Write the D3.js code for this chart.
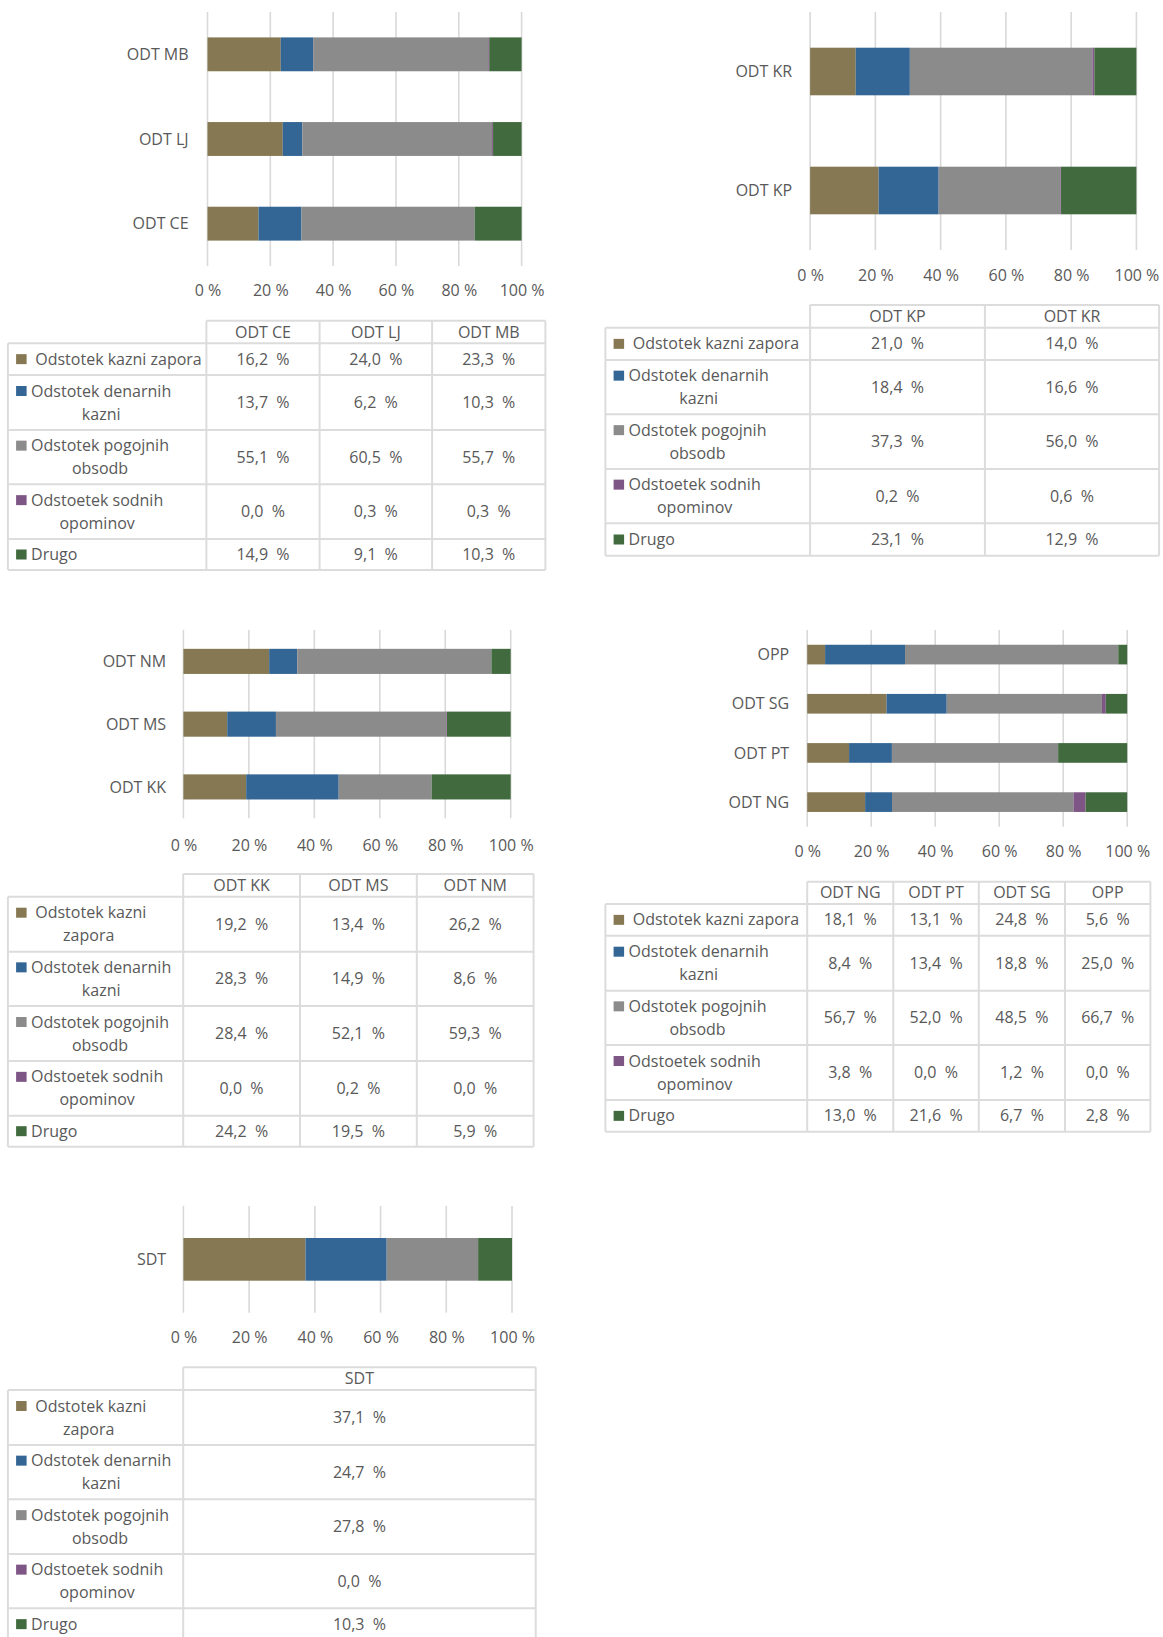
<!DOCTYPE html>
<html>
<head>
<meta charset="utf-8">
<script src="https://cdn.jsdelivr.net/npm/d3@7"></script>
<style>
  html, body { margin: 0; padding: 0; background: #ffffff; }
  svg { display: block; }
  text { font-family: "Open Sans", "Noto Sans", sans-serif; fill: #595959; }
</style>
</head>
<body>
<svg id="chart" width="1163" height="1637"></svg>
<script>
// ---------- DATA ----------
const seriesNames = ["Odstotek kazni zapora", "Odstotek denarnih kazni", "Odstotek pogojnih obsodb", "Odstoetek sodnih opominov", "Drugo"];
const seriesColors = ["#857852", "#336595", "#8b8b8b", "#7e5685", "#416b3e"];
const tickValues = [0, 0.2, 0.4, 0.6, 0.8, 1.0];
const tickLabels = ["0 %", "20 %", "40 %", "60 %", "80 %", "100 %"];

const p1Categories = ["ODT CE", "ODT LJ", "ODT MB"];
const p1Zapora   = [16.2, 24.0, 23.3];
const p1Denarne  = [13.7, 6.2, 10.3];
const p1Pogojne  = [55.1, 60.5, 55.7];
const p1Opomini  = [0.0, 0.3, 0.3];
const p1Drugo    = [14.9, 9.1, 10.3];

const p2Categories = ["ODT KP", "ODT KR"];
const p2Zapora   = [21.0, 14.0];
const p2Denarne  = [18.4, 16.6];
const p2Pogojne  = [37.3, 56.0];
const p2Opomini  = [0.2, 0.6];
const p2Drugo    = [23.1, 12.9];

const p3Categories = ["ODT KK", "ODT MS", "ODT NM"];
const p3Zapora   = [19.2, 13.4, 26.2];
const p3Denarne  = [28.3, 14.9, 8.6];
const p3Pogojne  = [28.4, 52.1, 59.3];
const p3Opomini  = [0.0, 0.2, 0.0];
const p3Drugo    = [24.2, 19.5, 5.9];

const p4Categories = ["ODT NG", "ODT PT", "ODT SG", "OPP"];
const p4Zapora   = [18.1, 13.1, 24.8, 5.6];
const p4Denarne  = [8.4, 13.4, 18.8, 25.0];
const p4Pogojne  = [56.7, 52.0, 48.5, 66.7];
const p4Opomini  = [3.8, 0.0, 1.2, 0.0];
const p4Drugo    = [13.0, 21.6, 6.7, 2.8];

const p5Categories = ["SDT"];
const p5Zapora   = [37.1];
const p5Denarne  = [24.7];
const p5Pogojne  = [27.8];
const p5Opomini  = [0.0];
const p5Drugo    = [10.3];

// ---------- LAYOUT ----------
const panels = [
  { cats: p1Categories, vals: [p1Zapora, p1Denarne, p1Pogojne, p1Opomini, p1Drugo], wide: true,
    chart: { x0: 207.5, x1: 521.6, yTop: 12, yBot: 266, labelX: 188.6, tickY: 290.5 },
    table: { headerTop: 320.7, colX: [7.9, 206.4, 319.6, 432.1, 545.4], rows: [343.3, 375, 430, 484.3, 539, 570] } },
  { cats: p2Categories, vals: [p2Zapora, p2Denarne, p2Pogojne, p2Opomini, p2Drugo], wide: true,
    chart: { x0: 810.1, x1: 1136.4, yTop: 12, yBot: 250, labelX: 792.1, tickY: 275 },
    table: { headerTop: 305, colX: [605.4, 810.1, 984.9, 1159.1], rows: [327.7, 360, 414.3, 469, 523.3, 555.7] } },
  { cats: p3Categories, vals: [p3Zapora, p3Denarne, p3Pogojne, p3Opomini, p3Drugo], wide: false,
    chart: { x0: 183.4, x1: 510.7, yTop: 630, yBot: 818.3, labelX: 166.1, tickY: 845 },
    table: { headerTop: 874, colX: [7.9, 183.2, 300, 416.8, 533.6], rows: [896.7, 951.7, 1006, 1061, 1115.7, 1146.7] } },
  { cats: p4Categories, vals: [p4Zapora, p4Denarne, p4Pogojne, p4Opomini, p4Drugo], wide: true,
    chart: { x0: 807.2, x1: 1127.2, yTop: 630, yBot: 826.7, labelX: 789.2, tickY: 851.7 },
    table: { headerTop: 881.7, colX: [605.4, 807.2, 893.3, 978.8, 1065, 1150.4], rows: [904, 935.7, 990.7, 1045, 1100, 1131.7] } },
  { cats: p5Categories, vals: [p5Zapora, p5Denarne, p5Pogojne, p5Opomini, p5Drugo], wide: false,
    chart: { x0: 183.4, x1: 512, yTop: 1206, yBot: 1312.7, labelX: 166.1, tickY: 1337.3 },
    table: { headerTop: 1367.3, colX: [7.9, 183.2, 535.7], rows: [1390, 1445, 1499.3, 1554, 1608.3, 1640] } }
];

const FONT = 16;
const GRID = "#d9d9d9";
const BORDER = "#dcdcdc";

const svg = d3.select("#chart");
const fmt = v => v.toFixed(1).replace(".", ",") + "\u00a0\u00a0%";

function labelLines(i, wide) {
  if (i === 0) return wide ? [" Odstotek kazni zapora"] : [" Odstotek kazni", "zapora"];
  if (i === 1) return ["Odstotek denarnih", "kazni"];
  if (i === 2) return ["Odstotek pogojnih", "obsodb"];
  if (i === 3) return ["Odstoetek sodnih", "opominov"];
  return ["Drugo"];
}

panels.forEach(p => {
  const c = p.chart;
  const g = svg.append("g");

  // stacked data (100 %)
  const rows = p.cats.map((cat, j) => {
    const o = { cat };
    seriesNames.forEach((s, i) => { o[i] = p.vals[i][j]; });
    return o;
  });
  const keys = seriesNames.map((s, i) => i);
  const stacked = d3.stack().keys(keys).offset(d3.stackOffsetExpand)(rows);

  const x = d3.scaleLinear().domain([0, 1]).range([c.x0, c.x1]);
  const y = d3.scaleBand().domain(p.cats.slice().reverse()).range([c.yTop, c.yBot])
    .paddingInner(0.6).paddingOuter(0.3);

  // gridlines
  g.append("g").selectAll("line").data(tickValues).join("line")
    .attr("x1", d => x(d)).attr("x2", d => x(d))
    .attr("y1", c.yTop).attr("y2", c.yBot)
    .attr("stroke", GRID).attr("stroke-width", 1.6);

  // bars
  g.append("g").selectAll("g").data(stacked).join("g")
    .attr("fill", d => seriesColors[d.key])
    .selectAll("rect").data(d => d).join("rect")
    .attr("x", d => x(d[0]))
    .attr("width", d => Math.max(0, x(d[1]) - x(d[0])))
    .attr("y", d => y(d.data.cat))
    .attr("height", y.bandwidth());

  // category labels
  g.append("g").selectAll("text").data(p.cats).join("text")
    .attr("x", c.labelX).attr("y", d => y(d) + y.bandwidth() / 2)
    .attr("dy", "0.35em").attr("text-anchor", "end")
    .attr("font-size", FONT).text(d => d);

  // x tick labels
  const xAxis = d3.axisBottom(x).tickValues(tickValues).tickSize(0).tickPadding(0)
    .tickFormat((d, i) => tickLabels[i]);
  const ax = g.append("g").attr("transform", `translate(0,${c.tickY})`).call(xAxis);
  ax.select(".domain").remove();
  ax.selectAll("text").attr("font-size", FONT).attr("fill", "#595959")
    .attr("font-family", "'Open Sans', sans-serif").attr("dy", "0.35em").attr("y", 0);

  // ---------- data table ----------
  const t = p.table;
  const tg = svg.append("g");
  const colX = t.colX, rb = t.rows;
  const last = colX[colX.length - 1];
  const bottom = rb[rb.length - 1];

  // borders
  tg.append("line").attr("x1", colX[1]).attr("x2", last).attr("y1", t.headerTop).attr("y2", t.headerTop);
  rb.forEach(r => tg.append("line").attr("x1", colX[0]).attr("x2", last).attr("y1", r).attr("y2", r));
  colX.forEach((cx, k) => tg.append("line").attr("x1", cx).attr("x2", cx)
    .attr("y1", k === 0 ? rb[0] : t.headerTop).attr("y2", bottom));
  tg.selectAll("line").attr("stroke", BORDER).attr("stroke-width", 2);

  // header
  p.cats.forEach((cat, j) => {
    tg.append("text").attr("x", (colX[j + 1] + colX[j + 2]) / 2)
      .attr("y", (t.headerTop + rb[0]) / 2).attr("dy", "0.35em")
      .attr("text-anchor", "middle").attr("font-size", FONT).text(cat);
  });

  // rows
  seriesNames.forEach((s, i) => {
    const top = rb[i], bot = rb[i + 1];
    const lines = labelLines(i, p.wide);
    const sq = colX[0] + 8.2;
    const firstY = lines.length === 1 ? (top + bot) / 2 : (top + bot) / 2 - 11.5;
    tg.append("rect").attr("x", sq).attr("y", firstY - 5).attr("width", 10.5).attr("height", 10)
      .attr("fill", seriesColors[i]);
    const tx = sq + 15;
    const l1 = tg.append("text").attr("x", tx).attr("y", firstY).attr("dy", "0.35em")
      .attr("font-size", FONT).attr("xml:space", "preserve").style("white-space", "pre").text(lines[0]);
    if (lines.length > 1) {
      const w = l1.node().getComputedTextLength();
      tg.append("text").attr("x", tx + w / 2).attr("y", firstY + 23).attr("dy", "0.35em")
        .attr("text-anchor", "middle").attr("font-size", FONT).text(lines[1]);
    }
    p.cats.forEach((cat, j) => {
      tg.append("text").attr("x", (colX[j + 1] + colX[j + 2]) / 2)
        .attr("y", (top + bot) / 2).attr("dy", "0.35em")
        .attr("text-anchor", "middle").attr("font-size", FONT)
        .style("white-space", "pre").text(fmt(p.vals[i][j]));
    });
  });
});
</script>
</body>
</html>
